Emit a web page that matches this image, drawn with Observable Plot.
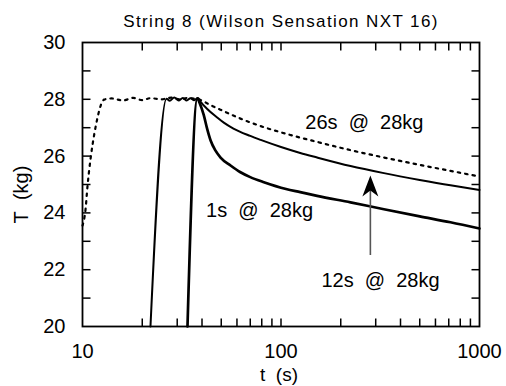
<!DOCTYPE html>
<html><head><meta charset="utf-8">
<script src="https://cdn.jsdelivr.net/npm/d3@7"></script>
<script src="https://cdn.jsdelivr.net/npm/@observablehq/plot@0.6"></script>
<style>body{margin:0;background:#fff;} svg{display:block;}</style>
</head><body><div id="chart"></div>
<script>
// ---- data ----
const title = "String 8 (Wilson Sensation NXT 16)";
const xLabel = "t\u00a0\u00a0(s)";
const yLabel = "T\u00a0\u00a0(kg)";

// 26 s @ 28 kg (dotted)
const t26 = [10, 10.35, 10.6, 11.0, 11.45, 11.9, 12.35, 12.85, 14, 16, 18, 20, 22, 25, 28, 31, 34, 36.5, 38.8, 44, 50, 62.5, 75, 112, 152, 224, 330, 500, 714, 1000];
const T26 = [23.55, 24.1, 24.95, 25.95, 26.75, 27.35, 27.78, 27.99, 28.03, 27.96, 28.05, 27.97, 28.04, 28.0, 28.06, 28.0, 28.05, 28.02, 27.99, 27.8, 27.62, 27.32, 27.11, 26.74, 26.5, 26.21, 25.95, 25.69, 25.48, 25.28];

// 12 s @ 28 kg (thin solid)
const t12 = [22.0, 26.5, 27.5, 29, 30.5, 32, 33.5, 35, 36.5, 38.2, 39.3, 42.5, 47.7, 51.5, 57.6, 70, 79, 100, 125, 152, 224, 330, 500, 714, 1000];
const T12 = [20, 28.02, 27.95, 28.06, 27.96, 28.05, 27.96, 28.04, 27.97, 28.05, 27.92, 27.66, 27.36, 27.18, 26.97, 26.71, 26.57, 26.32, 26.11, 25.95, 25.65, 25.4, 25.16, 24.97, 24.81];

// 1 s @ 28 kg (thick solid)
const t1 = [33.8, 37.9, 39.0, 40.8, 42.5, 44.2, 46.7, 49.6, 55.7, 62.5, 70, 82, 106, 125, 152, 224, 330, 500, 714, 1000];
const T1 = [20, 28.03, 27.85, 27.45, 26.95, 26.55, 26.2, 25.95, 25.67, 25.43, 25.26, 25.08, 24.84, 24.73, 24.6, 24.37, 24.13, 23.88, 23.67, 23.45];

// annotations
const labelTexts = ["26s\u00a0\u00a0@\u00a0\u00a028kg", "1s\u00a0\u00a0@\u00a0\u00a028kg", "12s\u00a0\u00a0@\u00a0\u00a028kg"];
const labelT = [263, 78, 317];
const labelV = [27.18, 24.08, 21.62];
const arrowT = 282;
const arrowFrom = 22.5;
const arrowTo = 25.32;

// axes
const xDomain = [10, 1000];
const yDomain = [20, 30];
const xTickLabels = [10, 100, 1000];
const yTickLabels = [20, 22, 24, 26, 28, 30];
const minorX = [20, 30, 40, 50, 60, 70, 80, 90, 100, 200, 300, 400, 500, 600, 700, 800, 900];
const minorY = [21, 22, 23, 24, 25, 26, 27, 28, 29];

// ---- build ----
const toRows = (ts, vs) => ts.map((t, i) => ({t, v: vs[i]}));
const s26 = toRows(t26, T26);
const s12 = toRows(t12, T12);
const s1 = toRows(t1, T1);
const labels = labelTexts.map((text, i) => ({text, t: labelT[i], v: labelV[i]}));

const W = 506, H = 386, mT = 42, mR = 27, mB = 60, mL = 82;
const frameW = W - mL - mR, frameH = H - mT - mB;
const TL = 8; // inward tick length in px
const yLen = (yDomain[1] - yDomain[0]) * TL / frameH;
const xFac = Math.pow(xDomain[1] / xDomain[0], TL / frameW);
const bottomTicks = minorX.map(x => ({x, a: yDomain[0], b: yDomain[0] + yLen}));
const topTicks = minorX.map(x => ({x, a: yDomain[1] - yLen, b: yDomain[1]}));
const leftTicks = minorY.map(y => ({y, a: xDomain[0], b: xDomain[0] * xFac}));
const rightTicks = minorY.map(y => ({y, a: xDomain[1] / xFac, b: xDomain[1]}));

const font = "Liberation Sans, Arial, Helvetica, sans-serif";
const arrowHead = {draw(ctx) { ctx.moveTo(0, 0); ctx.lineTo(-8, 21); ctx.lineTo(0, 15); ctx.lineTo(8, 21); ctx.closePath(); }};

const chart = Plot.plot({
  width: W, height: H,
  marginTop: mT, marginRight: mR, marginBottom: mB, marginLeft: mL,
  style: {fontFamily: font, background: "#fff", color: "#000", overflow: "visible"},
  x: {type: "log", domain: xDomain},
  y: {domain: yDomain},
  marks: [
    Plot.axisX({anchor: "bottom", ticks: xTickLabels, tickSize: 0, tickPadding: 17, tickFormat: d => String(d), fontSize: 20, label: null}),
    Plot.axisY({anchor: "left", ticks: yTickLabels, tickSize: 0, tickPadding: 17, tickFormat: d => String(d), fontSize: 20, label: null}),
    Plot.line(s26, {x: "t", y: "v", stroke: "#000", strokeWidth: 2.2, strokeDasharray: "2.5,5", curve: "monotone-x"}),
    Plot.line(s12, {x: "t", y: "v", stroke: "#000", strokeWidth: 2, curve: "monotone-x"}),
    Plot.line(s1, {x: "t", y: "v", stroke: "#000", strokeWidth: 2.7, curve: "monotone-x"}),
    Plot.ruleX([arrowT], {y1: arrowFrom, y2: arrowTo - 0.3, stroke: "#555", strokeWidth: 1.6}),
    Plot.dot([arrowT], {x: d => d, y: () => arrowTo, symbol: arrowHead, fill: "#000", stroke: "none"}),
    Plot.text(labels, {x: "t", y: "v", text: "text", fontSize: 20, textAnchor: "middle", lineAnchor: "middle"}),
    Plot.link(bottomTicks, {x1: "x", x2: "x", y1: "a", y2: "b", stroke: "black", strokeWidth: 1.5}),
    Plot.link(topTicks, {x1: "x", x2: "x", y1: "a", y2: "b", stroke: "black", strokeWidth: 1.5}),
    Plot.link(leftTicks, {y1: "y", y2: "y", x1: "a", x2: "b", stroke: "black", strokeWidth: 1.5}),
    Plot.link(rightTicks, {y1: "y", y2: "y", x1: "a", x2: "b", stroke: "black", strokeWidth: 1.5}),
    Plot.frame({stroke: "#000", strokeWidth: 1.8}),
    Plot.text([title], {frameAnchor: "top", dy: -21, fontSize: 17, textAnchor: "middle", lineAnchor: "middle"}),
    Plot.text([yLabel], {frameAnchor: "left", dx: -61, dy: 10, rotate: -90, fontSize: 20, textAnchor: "middle", lineAnchor: "middle"}),
    Plot.text([xLabel], {frameAnchor: "bottom", dx: -2, dy: 48, fontSize: 19, textAnchor: "middle", lineAnchor: "middle"})
  ]
});
d3.select(chart).selectAll("text").filter(function() { return this.textContent === title; }).attr("letter-spacing", "1.4px");
document.getElementById("chart").appendChild(chart);
</script>
</body></html>
